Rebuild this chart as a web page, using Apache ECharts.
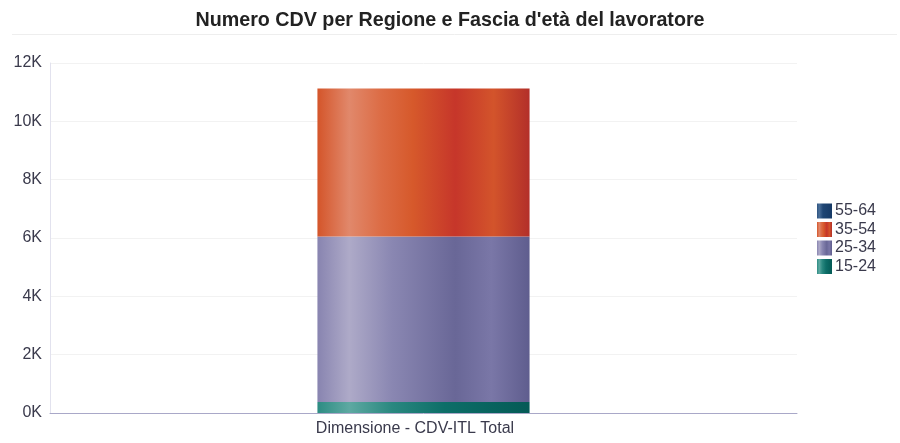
<!DOCTYPE html>
<html>
<head>
    <meta charset="utf-8">
    <title>Numero CDV per Regione e Fascia d'età del lavoratore</title>
    <script src="https://cdn.jsdelivr.net/npm/echarts@6/dist/echarts.min.js"></script>
</head>
<body style="margin:0">
<div id="main" style="width:900px;height:443px;"></div>
<script type="text/javascript">
    var categories = ['Dimensione - CDV-ITL Total'];
    var fasce = ['15-24', '25-34', '35-54', '55-64'];
    var v1524 = [380];
    var v2534 = [5670];
    var v3554 = [5080];
    var v5564 = [0];
    var yTicks = [0, 2000, 4000, 6000, 8000, 10000, 12000];

    function grad(stops) {
        return new echarts.graphic.LinearGradient(0, 0, 1, 0, stops.map(function (s) {
            return { offset: s[0], color: s[1] };
        }));
    }

    var colors = {
        '15-24': grad([[0, '#2d8c83'], [0.15, '#5ea9a2'], [0.35, '#2a8880'], [0.6, '#0d6e68'], [1, '#045a56']]),
        '25-34': grad([[0, '#8884b0'], [0.15, '#aeaac8'], [0.35, '#8a87b2'], [0.65, '#696797'], [0.82, '#7a77a7'], [1, '#5f5d8e']]),
        '35-54': grad([[0, '#d4552a'], [0.15, '#e1886b'], [0.3, '#dc6c45'], [0.45, '#d6592b'], [0.65, '#c6362a'], [0.83, '#d3542b'], [1, '#b32f29']]),
        '55-64': grad([[0, '#2d5380'], [0.15, '#4a6e98'], [0.4, '#1f4674'], [1, '#163a66']])
    };
    var values = { '15-24': v1524, '25-34': v2534, '35-54': v3554, '55-64': v5564 };

    var font = 'Liberation Sans';
    var myChart = echarts.init(document.getElementById('main'));
    myChart.setOption({
        animation: false,
        title: {
            text: "Numero CDV per Regione e Fascia d'età del lavoratore",
            left: 'center',
            top: 6,
            textStyle: { fontSize: 19.7, fontWeight: 'bold', color: '#222', fontFamily: font }
        },
        graphic: [{
            type: 'line',
            shape: { x1: 12, y1: 34.5, x2: 897, y2: 34.5 },
            style: { stroke: '#eeeeee', lineWidth: 1 }
        }],
        legend: {
            orient: 'vertical',
            left: 812,
            top: 198,
            itemWidth: 15,
            itemHeight: 15,
            itemGap: 2.5,
            icon: 'rect',
            data: ['55-64', '35-54', '25-34', '15-24'],
            textStyle: { fontSize: 16, color: '#3a3a4c', padding: [0, 0, 0, -2], fontFamily: font }
        },
        grid: { left: 50, right: 103, top: 63, bottom: 30 },
        xAxis: {
            type: 'category',
            data: categories,
            axisLine: { lineStyle: { color: '#a9a8c8' } },
            axisTick: { show: false },
            axisLabel: { fontSize: 16, color: '#3a3a4c', margin: 8, padding: [0, 17, 0, 0], fontFamily: font }
        },
        yAxis: {
            type: 'value',
            min: yTicks[0],
            max: yTicks[yTicks.length - 1],
            interval: 2000,
            axisLine: { show: true, lineStyle: { color: '#e2e2ee' } },
            axisTick: { show: false },
            splitLine: { lineStyle: { color: '#f2f2f2' } },
            axisLabel: {
                fontSize: 16, color: '#3a3a4c', margin: 8, fontFamily: font,
                formatter: function (v) { return (v / 1000) + 'K'; }
            }
        },
        series: fasce.map(function (f) {
            return {
                name: f,
                type: 'bar',
                stack: 'tot',
                barWidth: '28.4%',
                data: values[f],
                itemStyle: { color: colors[f] }
            };
        })
    });
</script>
</body>
</html>
